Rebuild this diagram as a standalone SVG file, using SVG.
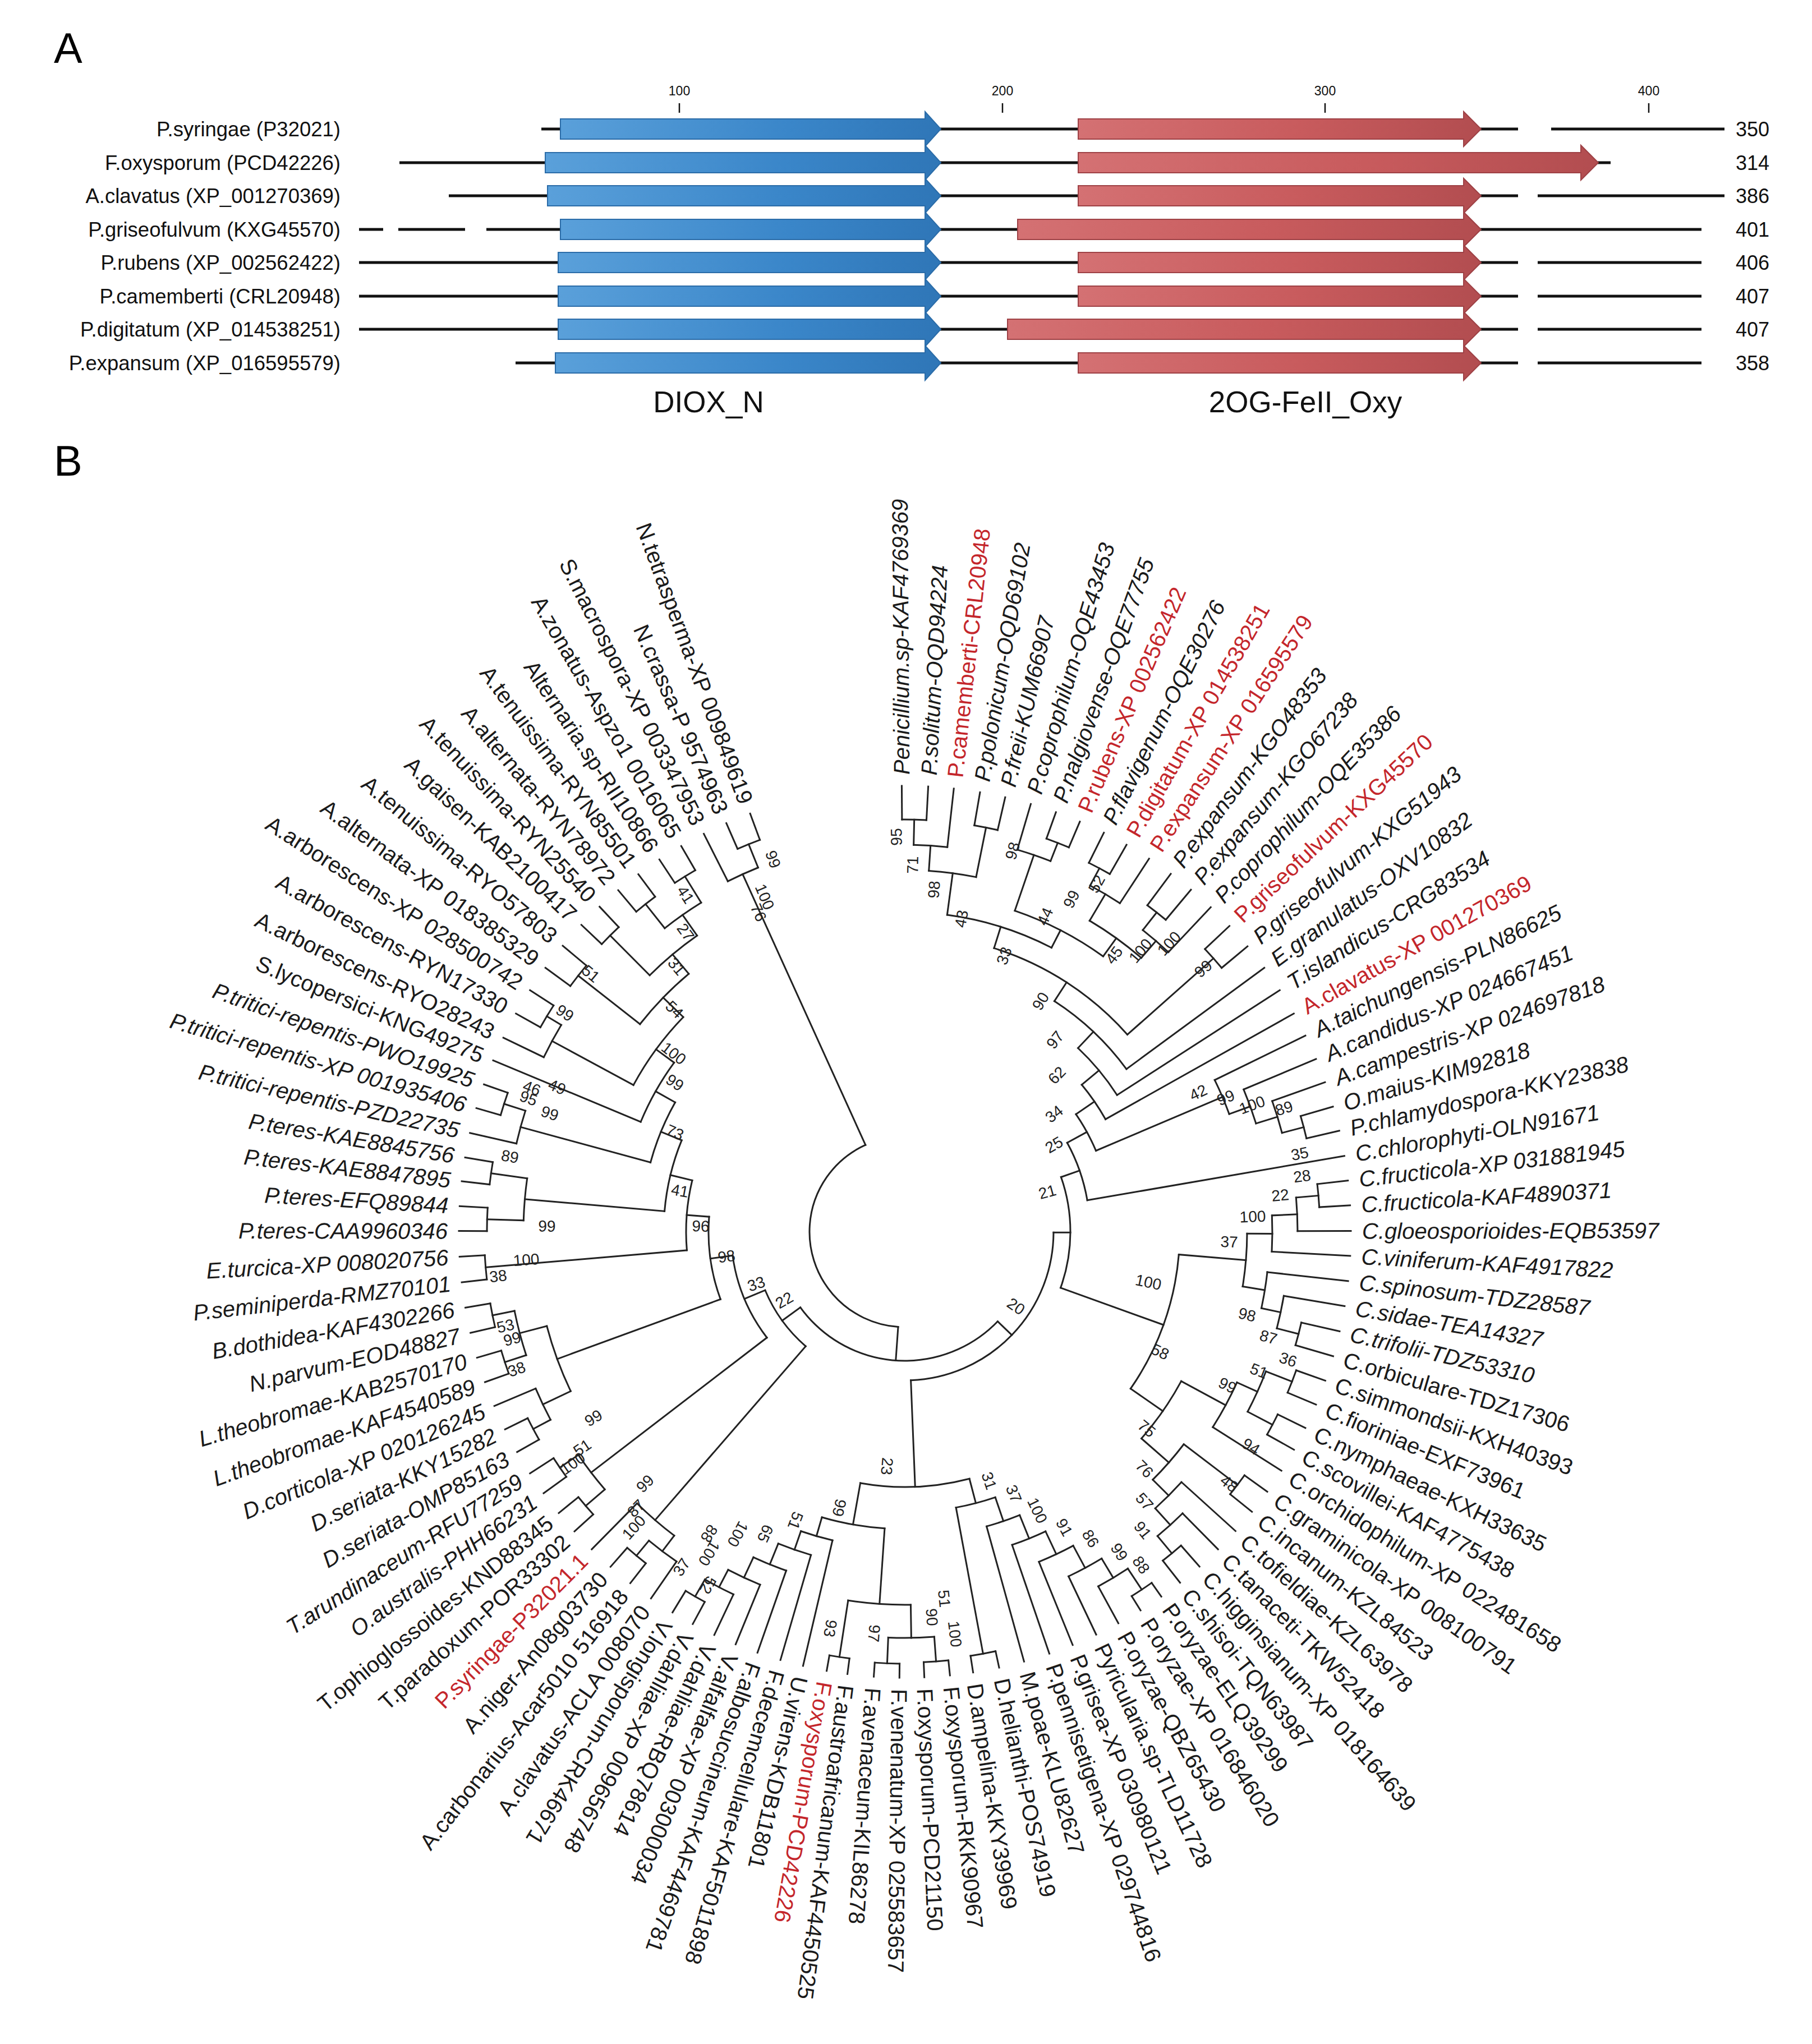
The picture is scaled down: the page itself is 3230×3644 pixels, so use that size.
<svg xmlns="http://www.w3.org/2000/svg" width="3230" height="3644" viewBox="0 0 3230 3644">
<style>
.pl{font-family:"Liberation Sans",Arial,sans-serif;font-size:76px;fill:#000}
.sp{font-family:"Liberation Sans",Arial,sans-serif;font-size:36.5px;fill:#111;text-anchor:end}
.len{font-family:"Liberation Sans",Arial,sans-serif;font-size:36px;fill:#111}
.tk{font-family:"Liberation Sans",Arial,sans-serif;font-size:23px;fill:#111;text-anchor:middle}
.dom{font-family:"Liberation Sans",Arial,sans-serif;font-size:53px;fill:#111;text-anchor:middle}
.ln{fill:none;stroke:#111;stroke-width:5}
.ba{fill:url(#gb);stroke:#2b6ca8;stroke-width:2}
.ra{fill:url(#gr);stroke:#9e4145;stroke-width:2}
.lb{font-family:"Liberation Sans",Arial,sans-serif;font-size:40px;fill:#1a1a1a;dominant-baseline:central}
.i{font-style:italic}
.r{fill:#c4262b}
.bs{font-family:"Liberation Sans",Arial,sans-serif;font-size:28px;fill:#222;text-anchor:middle;dominant-baseline:central}
</style>
<defs>
<linearGradient id="gb" x1="0" y1="0" x2="1" y2="0"><stop offset="0" stop-color="#5aa0da"/><stop offset="0.6" stop-color="#3a86c9"/><stop offset="1" stop-color="#2f76b7"/></linearGradient>
<linearGradient id="gr" x1="0" y1="0" x2="1" y2="0"><stop offset="0" stop-color="#d47173"/><stop offset="0.55" stop-color="#c85b5d"/><stop offset="1" stop-color="#b24d50"/></linearGradient>
</defs>
<rect width="3230" height="3644" fill="#fff"/>
<g id="panelA">
<text class="pl" x="96" y="112">A</text>
<g id="scale">
<path d="M1211 184V201M1787 184V201M2362 184V201M2939 184V201" stroke="#111" stroke-width="2.5"/>
<text class="tk" x="1211" y="170">100</text><text class="tk" x="1787" y="170">200</text><text class="tk" x="2362" y="170">300</text><text class="tk" x="2939" y="170">400</text>
</g>
<g id="row1"><path class="ln" d="M965 230H999M1676 230H1922M2639 230H2706M2765 230H3074"/><polygon class="ba" points="999,212 1649,212 1649,199 1677,230 1649,261 1649,248 999,248"/><polygon class="ra" points="1922,212 2609,212 2609,199 2640,230 2609,261 2609,248 1922,248"/><text class="sp" x="607" y="243">P.syringae (P32021)</text><text class="len" x="3094" y="243">350</text></g>
<g id="row2"><path class="ln" d="M712 290H972M1676 290H1922M2848 290H2871"/><polygon class="ba" points="972,272 1649,272 1649,259 1677,290 1649,321 1649,308 972,308"/><polygon class="ra" points="1922,272 2818,272 2818,259 2849,290 2818,321 2818,308 1922,308"/><text class="sp" x="607" y="303">F.oxysporum (PCD42226)</text><text class="len" x="3094" y="303">314</text></g>
<g id="row3"><path class="ln" d="M800 349H976M1676 349H1922M2639 349H2706M2741 349H3074"/><polygon class="ba" points="976,331 1649,331 1649,318 1677,349 1649,380 1649,367 976,367"/><polygon class="ra" points="1922,331 2609,331 2609,318 2640,349 2609,380 2609,367 1922,367"/><text class="sp" x="607" y="362">A.clavatus (XP_001270369)</text><text class="len" x="3094" y="362">386</text></g>
<g id="row4"><path class="ln" d="M640 409H683M710 409H829M867 409H999M1676 409H1814M2639 409H3033"/><polygon class="ba" points="999,391 1649,391 1649,378 1677,409 1649,440 1649,427 999,427"/><polygon class="ra" points="1814,391 2609,391 2609,378 2640,409 2609,440 2609,427 1814,427"/><text class="sp" x="607" y="422">P.griseofulvum (KXG45570)</text><text class="len" x="3094" y="422">401</text></g>
<g id="row5"><path class="ln" d="M640 468H995M1676 468H1922M2639 468H2706M2741 468H3033"/><polygon class="ba" points="995,450 1649,450 1649,437 1677,468 1649,499 1649,486 995,486"/><polygon class="ra" points="1922,450 2609,450 2609,437 2640,468 2609,499 2609,486 1922,486"/><text class="sp" x="607" y="481">P.rubens (XP_002562422)</text><text class="len" x="3094" y="481">406</text></g>
<g id="row6"><path class="ln" d="M640 528H995M1676 528H1922M2639 528H2706M2741 528H3033"/><polygon class="ba" points="995,510 1649,510 1649,497 1677,528 1649,559 1649,546 995,546"/><polygon class="ra" points="1922,510 2609,510 2609,497 2640,528 2609,559 2609,546 1922,546"/><text class="sp" x="607" y="541">P.camemberti (CRL20948)</text><text class="len" x="3094" y="541">407</text></g>
<g id="row7"><path class="ln" d="M640 587H995M1676 587H1796M2639 587H2706M2741 587H3033"/><polygon class="ba" points="995,569 1649,569 1649,556 1677,587 1649,618 1649,605 995,605"/><polygon class="ra" points="1796,569 2609,569 2609,556 2640,587 2609,618 2609,605 1796,605"/><text class="sp" x="607" y="600">P.digitatum (XP_014538251)</text><text class="len" x="3094" y="600">407</text></g>
<g id="row8"><path class="ln" d="M919 647H990M1676 647H1922M2639 647H2706M2741 647H3033"/><polygon class="ba" points="990,629 1649,629 1649,616 1677,647 1649,678 1649,665 990,665"/><polygon class="ra" points="1922,629 2609,629 2609,616 2640,647 2609,678 2609,665 1922,665"/><text class="sp" x="607" y="660">P.expansum (XP_016595579)</text><text class="len" x="3094" y="660">358</text></g>
<text class="dom" x="1263" y="735">DIOX_N</text>
<text class="dom" x="2327" y="735">2OG-FeII_Oxy</text>
</g>
<g id="panelB">
<text class="pl" x="96" y="848">B</text>
<g id="connectors" fill="none" stroke="#222" stroke-width="3" stroke-linecap="square" transform="translate(1613 2196)">
<circle r="735" pathLength="360" stroke-dasharray="3.4 400" transform="rotate(-90.4)"/>
<circle r="690" pathLength="360" stroke-dasharray="5 400" transform="rotate(-88.7)"/>
<circle r="735" pathLength="360" stroke-dasharray="3.3 400" transform="rotate(-80.3)"/>
<circle r="645" pathLength="360" stroke-dasharray="7.55 400" transform="rotate(-86.2)"/>
<circle r="745" pathLength="360" stroke-dasharray="3.3 400" transform="rotate(-70.2)"/>
<circle r="710" pathLength="360" stroke-dasharray="5.05 400" transform="rotate(-73.6)"/>
<circle r="735" pathLength="360" stroke-dasharray="3.3 400" transform="rotate(-63.5)"/>
<circle r="700" pathLength="360" stroke-dasharray="5.05 400" transform="rotate(-61.85)"/>
<circle r="725" pathLength="360" stroke-dasharray="3.3 400" transform="rotate(-53.4)"/>
<circle r="685" pathLength="360" stroke-dasharray="5.05 400" transform="rotate(-51.75)"/>
<circle r="645" pathLength="360" stroke-dasharray="10.1 400" transform="rotate(-59.3)"/>
<circle r="605" pathLength="360" stroke-dasharray="16.85 400" transform="rotate(-71.1)"/>
<circle r="570" pathLength="360" stroke-dasharray="19.7 400" transform="rotate(-82.4)"/>
<circle r="735" pathLength="360" stroke-dasharray="3.5 400" transform="rotate(-43.3)"/>
<circle r="530" pathLength="360" stroke-dasharray="31 400" transform="rotate(-72.55)"/>
<circle r="490" pathLength="360" stroke-dasharray="20.75 400" transform="rotate(-57.05)"/>
<circle r="450" pathLength="360" stroke-dasharray="13.9 400" transform="rotate(-46.7)"/>
<circle r="410" pathLength="360" stroke-dasharray="10.45 400" transform="rotate(-39.75)"/>
<circle r="735" pathLength="360" stroke-dasharray="3.2 400" transform="rotate(-16.3)"/>
<circle r="695" pathLength="360" stroke-dasharray="4.9 400" transform="rotate(-19.6)"/>
<circle r="655" pathLength="360" stroke-dasharray="5.65 400" transform="rotate(-22.8)"/>
<circle r="615" pathLength="360" stroke-dasharray="6.15 400" transform="rotate(-26.1)"/>
<circle r="370" pathLength="360" stroke-dasharray="11.5 400" transform="rotate(-34.5)"/>
<circle r="330" pathLength="360" stroke-dasharray="18.95 400" transform="rotate(-28.75)"/>
<circle r="740" pathLength="360" stroke-dasharray="3.2 400" transform="rotate(-6.6)"/>
<circle r="700" pathLength="360" stroke-dasharray="4.9 400" transform="rotate(-5)"/>
<circle r="655" pathLength="360" stroke-dasharray="5.65 400" transform="rotate(-2.55)"/>
<circle r="725" pathLength="360" stroke-dasharray="3.3 400" transform="rotate(12.9)"/>
<circle r="685" pathLength="360" stroke-dasharray="4.95 400" transform="rotate(9.6)"/>
<circle r="650" pathLength="360" stroke-dasharray="5.75 400" transform="rotate(6.35)"/>
<circle r="610" pathLength="360" stroke-dasharray="8.9 400" transform="rotate(0.3)"/>
<circle r="740" pathLength="360" stroke-dasharray="3.3 400" transform="rotate(19.5)"/>
<circle r="740" pathLength="360" stroke-dasharray="3.15 400" transform="rotate(26.1)"/>
<circle r="690" pathLength="360" stroke-dasharray="6.55 400" transform="rotate(21.15)"/>
<circle r="650" pathLength="360" stroke-dasharray="8 400" transform="rotate(24.4)"/>
<circle r="745" pathLength="360" stroke-dasharray="3.25 400" transform="rotate(35.65)"/>
<circle r="745" pathLength="360" stroke-dasharray="3.25 400" transform="rotate(48.65)"/>
<circle r="705" pathLength="360" stroke-dasharray="4.9 400" transform="rotate(45.4)"/>
<circle r="665" pathLength="360" stroke-dasharray="5.7 400" transform="rotate(42.15)"/>
<circle r="625" pathLength="360" stroke-dasharray="7.7 400" transform="rotate(37.3)"/>
<circle r="560" pathLength="360" stroke-dasharray="12.75 400" transform="rotate(28.4)"/>
<circle r="490" pathLength="360" stroke-dasharray="30.05 400" transform="rotate(4.75)"/>
<circle r="295" pathLength="360" stroke-dasharray="39.1 400" transform="rotate(-19.3)"/>
<circle r="765" pathLength="360" stroke-dasharray="3.2 400" transform="rotate(54.9)"/>
<circle r="720" pathLength="360" stroke-dasharray="4.9 400" transform="rotate(56.5)"/>
<circle r="680" pathLength="360" stroke-dasharray="5.65 400" transform="rotate(58.95)"/>
<circle r="635" pathLength="360" stroke-dasharray="6.1 400" transform="rotate(61.8)"/>
<circle r="590" pathLength="360" stroke-dasharray="6.25 400" transform="rotate(64.85)"/>
<circle r="545" pathLength="360" stroke-dasharray="6.55 400" transform="rotate(67.95)"/>
<circle r="765" pathLength="360" stroke-dasharray="3.4 400" transform="rotate(77.8)"/>
<circle r="500" pathLength="360" stroke-dasharray="8.3 400" transform="rotate(71.2)"/>
<circle r="768" pathLength="360" stroke-dasharray="3.3 400" transform="rotate(84.2)"/>
<circle r="770" pathLength="360" stroke-dasharray="3.3 400" transform="rotate(90.7)"/>
<circle r="724" pathLength="360" stroke-dasharray="6.5 400" transform="rotate(85.85)"/>
<circle r="767" pathLength="360" stroke-dasharray="2.7 400" transform="rotate(97.4)"/>
<circle r="665" pathLength="360" stroke-dasharray="9.65 400" transform="rotate(89.1)"/>
<circle r="750" pathLength="360" stroke-dasharray="3 400" transform="rotate(118.4)"/>
<circle r="715" pathLength="360" stroke-dasharray="4.6 400" transform="rotate(115.3)"/>
<circle r="680" pathLength="360" stroke-dasharray="5.3 400" transform="rotate(112.3)"/>
<circle r="640" pathLength="360" stroke-dasharray="5.65 400" transform="rotate(109.3)"/>
<circle r="600" pathLength="360" stroke-dasharray="5.9 400" transform="rotate(106.2)"/>
<circle r="565" pathLength="360" stroke-dasharray="5.95 400" transform="rotate(103.2)"/>
<circle r="530" pathLength="360" stroke-dasharray="12.3 400" transform="rotate(93.9)"/>
<circle r="455" pathLength="360" stroke-dasharray="24.7 400" transform="rotate(75.35)"/>
<circle r="265" pathLength="360" stroke-dasharray="87.45 400" transform="rotate(0.25)"/>
<circle r="750" pathLength="360" stroke-dasharray="3.3 400" transform="rotate(128)"/>
<circle r="715" pathLength="360" stroke-dasharray="4.95 400" transform="rotate(124.7)"/>
<circle r="680" pathLength="360" stroke-dasharray="7.4 400" transform="rotate(127.2)"/>
<circle r="750" pathLength="360" stroke-dasharray="3.1 400" transform="rotate(137.8)"/>
<circle r="745" pathLength="360" stroke-dasharray="3.1 400" transform="rotate(144.1)"/>
<circle r="705" pathLength="360" stroke-dasharray="6.3 400" transform="rotate(139.35)"/>
<circle r="750" pathLength="360" stroke-dasharray="3.3 400" transform="rotate(150.4)"/>
<circle r="715" pathLength="360" stroke-dasharray="4.95 400" transform="rotate(152.05)"/>
<circle r="750" pathLength="360" stroke-dasharray="3.3 400" transform="rotate(160.3)"/>
<circle r="750" pathLength="360" stroke-dasharray="3.3 400" transform="rotate(166.9)"/>
<circle r="710" pathLength="360" stroke-dasharray="6.6 400" transform="rotate(161.95)"/>
<circle r="660" pathLength="360" stroke-dasharray="10.75 400" transform="rotate(154.5)"/>
<circle r="750" pathLength="360" stroke-dasharray="3.3 400" transform="rotate(173.5)"/>
<circle r="745" pathLength="360" stroke-dasharray="3.2 400" transform="rotate(180.1)"/>
<circle r="745" pathLength="360" stroke-dasharray="3.1 400" transform="rotate(186.5)"/>
<circle r="680" pathLength="360" stroke-dasharray="6.35 400" transform="rotate(181.7)"/>
<circle r="750" pathLength="360" stroke-dasharray="3.2 400" transform="rotate(196.1)"/>
<circle r="710" pathLength="360" stroke-dasharray="4.9 400" transform="rotate(192.8)"/>
<circle r="745" pathLength="360" stroke-dasharray="3.5 400" transform="rotate(209.3)"/>
<circle r="715" pathLength="360" stroke-dasharray="5.25 400" transform="rotate(205.8)"/>
<circle r="740" pathLength="360" stroke-dasharray="3.6 400" transform="rotate(216.3)"/>
<circle r="745" pathLength="360" stroke-dasharray="3.3 400" transform="rotate(223.5)"/>
<circle r="745" pathLength="360" stroke-dasharray="3.3 400" transform="rotate(230)"/>
<circle r="745" pathLength="360" stroke-dasharray="3.3 400" transform="rotate(236.6)"/>
<circle r="690" pathLength="360" stroke-dasharray="6.6 400" transform="rotate(231.65)"/>
<circle r="645" pathLength="360" stroke-dasharray="9.8 400" transform="rotate(225.15)"/>
<circle r="600" pathLength="360" stroke-dasharray="11.95 400" transform="rotate(218.1)"/>
<circle r="550" pathLength="360" stroke-dasharray="15.7 400" transform="rotate(208.4)"/>
<circle r="510" pathLength="360" stroke-dasharray="13.65 400" transform="rotate(202.6)"/>
<circle r="470" pathLength="360" stroke-dasharray="14.15 400" transform="rotate(195.25)"/>
<circle r="430" pathLength="360" stroke-dasharray="17.4 400" transform="rotate(184.9)"/>
<circle r="390" pathLength="360" stroke-dasharray="18.45 400" transform="rotate(175.15)"/>
<circle r="350" pathLength="360" stroke-dasharray="24.5 400" transform="rotate(159.9)"/>
<circle r="310" pathLength="360" stroke-dasharray="29.65 400" transform="rotate(142.5)"/>
<circle r="270" pathLength="360" stroke-dasharray="26.4 400" transform="rotate(130.9)"/>
<circle r="745" pathLength="360" stroke-dasharray="3.3 400" transform="rotate(246.4)"/>
<circle r="700" pathLength="360" stroke-dasharray="4.85 400" transform="rotate(243.2)"/>
<circle r="230" pathLength="360" stroke-dasharray="100.1 400" transform="rotate(44)"/>
<circle r="170" pathLength="360" stroke-dasharray="151.55 400" transform="rotate(94.05)"/>
<path d="M735 0H795" transform="rotate(-90.4)"/>
<path d="M735 0H795" transform="rotate(-87)"/>
<path d="M690 0H735" transform="rotate(-88.7)"/>
<path d="M690 0H795" transform="rotate(-83.7)"/>
<path d="M735 0H795" transform="rotate(-80.3)"/>
<path d="M735 0H795" transform="rotate(-77)"/>
<path d="M645 0H690" transform="rotate(-86.2)"/>
<path d="M645 0H735" transform="rotate(-78.65)"/>
<path d="M745 0H795" transform="rotate(-70.2)"/>
<path d="M745 0H795" transform="rotate(-66.9)"/>
<path d="M710 0H795" transform="rotate(-73.6)"/>
<path d="M710 0H745" transform="rotate(-68.55)"/>
<path d="M735 0H795" transform="rotate(-63.5)"/>
<path d="M735 0H795" transform="rotate(-60.2)"/>
<path d="M700 0H735" transform="rotate(-61.85)"/>
<path d="M700 0H795" transform="rotate(-56.8)"/>
<path d="M725 0H795" transform="rotate(-53.4)"/>
<path d="M725 0H795" transform="rotate(-50.1)"/>
<path d="M685 0H725" transform="rotate(-51.75)"/>
<path d="M685 0H795" transform="rotate(-46.7)"/>
<path d="M645 0H700" transform="rotate(-59.3)"/>
<path d="M645 0H685" transform="rotate(-49.2)"/>
<path d="M605 0H710" transform="rotate(-71.1)"/>
<path d="M605 0H645" transform="rotate(-54.25)"/>
<path d="M570 0H645" transform="rotate(-82.4)"/>
<path d="M570 0H605" transform="rotate(-62.7)"/>
<path d="M735 0H795" transform="rotate(-43.3)"/>
<path d="M735 0H795" transform="rotate(-39.8)"/>
<path d="M530 0H570" transform="rotate(-72.55)"/>
<path d="M530 0H735" transform="rotate(-41.55)"/>
<path d="M490 0H530" transform="rotate(-57.05)"/>
<path d="M490 0H795" transform="rotate(-36.3)"/>
<path d="M450 0H490" transform="rotate(-46.7)"/>
<path d="M450 0H795" transform="rotate(-32.8)"/>
<path d="M410 0H450" transform="rotate(-39.75)"/>
<path d="M410 0H795" transform="rotate(-29.3)"/>
<path d="M735 0H795" transform="rotate(-16.3)"/>
<path d="M735 0H795" transform="rotate(-13.1)"/>
<path d="M695 0H795" transform="rotate(-19.6)"/>
<path d="M695 0H735" transform="rotate(-14.7)"/>
<path d="M655 0H795" transform="rotate(-22.8)"/>
<path d="M655 0H695" transform="rotate(-17.15)"/>
<path d="M615 0H795" transform="rotate(-26.1)"/>
<path d="M615 0H655" transform="rotate(-19.95)"/>
<path d="M370 0H410" transform="rotate(-34.5)"/>
<path d="M370 0H615" transform="rotate(-23)"/>
<path d="M330 0H370" transform="rotate(-28.75)"/>
<path d="M330 0H795" transform="rotate(-9.8)"/>
<path d="M740 0H795" transform="rotate(-6.6)"/>
<path d="M740 0H795" transform="rotate(-3.4)"/>
<path d="M700 0H740" transform="rotate(-5)"/>
<path d="M700 0H795" transform="rotate(-0.1)"/>
<path d="M655 0H700" transform="rotate(-2.55)"/>
<path d="M655 0H795" transform="rotate(3.1)"/>
<path d="M725 0H795" transform="rotate(12.9)"/>
<path d="M725 0H795" transform="rotate(16.2)"/>
<path d="M685 0H795" transform="rotate(9.6)"/>
<path d="M685 0H725" transform="rotate(14.55)"/>
<path d="M650 0H795" transform="rotate(6.35)"/>
<path d="M650 0H685" transform="rotate(12.1)"/>
<path d="M610 0H655" transform="rotate(0.3)"/>
<path d="M610 0H650" transform="rotate(9.2)"/>
<path d="M740 0H795" transform="rotate(19.5)"/>
<path d="M740 0H795" transform="rotate(22.8)"/>
<path d="M740 0H795" transform="rotate(26.1)"/>
<path d="M740 0H795" transform="rotate(29.25)"/>
<path d="M690 0H740" transform="rotate(21.15)"/>
<path d="M690 0H740" transform="rotate(27.7)"/>
<path d="M650 0H690" transform="rotate(24.4)"/>
<path d="M650 0H795" transform="rotate(32.4)"/>
<path d="M745 0H795" transform="rotate(35.65)"/>
<path d="M745 0H795" transform="rotate(38.9)"/>
<path d="M745 0H795" transform="rotate(48.65)"/>
<path d="M745 0H795" transform="rotate(51.9)"/>
<path d="M705 0H795" transform="rotate(45.4)"/>
<path d="M705 0H745" transform="rotate(50.3)"/>
<path d="M665 0H795" transform="rotate(42.15)"/>
<path d="M665 0H705" transform="rotate(47.85)"/>
<path d="M625 0H745" transform="rotate(37.3)"/>
<path d="M625 0H665" transform="rotate(45)"/>
<path d="M560 0H650" transform="rotate(28.4)"/>
<path d="M560 0H625" transform="rotate(41.15)"/>
<path d="M490 0H610" transform="rotate(4.75)"/>
<path d="M490 0H560" transform="rotate(34.8)"/>
<path d="M295 0H330" transform="rotate(-19.3)"/>
<path d="M295 0H490" transform="rotate(19.8)"/>
<path d="M765 0H795" transform="rotate(54.9)"/>
<path d="M765 0H795" transform="rotate(58.1)"/>
<path d="M720 0H765" transform="rotate(56.5)"/>
<path d="M720 0H795" transform="rotate(61.4)"/>
<path d="M680 0H720" transform="rotate(58.95)"/>
<path d="M680 0H795" transform="rotate(64.6)"/>
<path d="M635 0H680" transform="rotate(61.8)"/>
<path d="M635 0H795" transform="rotate(67.9)"/>
<path d="M590 0H635" transform="rotate(64.85)"/>
<path d="M590 0H795" transform="rotate(71.1)"/>
<path d="M545 0H590" transform="rotate(67.95)"/>
<path d="M545 0H795" transform="rotate(74.5)"/>
<path d="M765 0H795" transform="rotate(77.8)"/>
<path d="M765 0H795" transform="rotate(81.2)"/>
<path d="M500 0H545" transform="rotate(71.2)"/>
<path d="M500 0H765" transform="rotate(79.5)"/>
<path d="M768 0H795" transform="rotate(84.2)"/>
<path d="M768 0H795" transform="rotate(87.5)"/>
<path d="M770 0H795" transform="rotate(90.7)"/>
<path d="M770 0H795" transform="rotate(94)"/>
<path d="M724 0H768" transform="rotate(85.85)"/>
<path d="M724 0H770" transform="rotate(92.35)"/>
<path d="M767 0H795" transform="rotate(97.4)"/>
<path d="M767 0H795" transform="rotate(100.1)"/>
<path d="M665 0H724" transform="rotate(89.1)"/>
<path d="M665 0H767" transform="rotate(98.75)"/>
<path d="M750 0H795" transform="rotate(118.4)"/>
<path d="M750 0H795" transform="rotate(121.4)"/>
<path d="M715 0H795" transform="rotate(115.3)"/>
<path d="M715 0H750" transform="rotate(119.9)"/>
<path d="M680 0H795" transform="rotate(112.3)"/>
<path d="M680 0H715" transform="rotate(117.6)"/>
<path d="M640 0H795" transform="rotate(109.3)"/>
<path d="M640 0H680" transform="rotate(114.95)"/>
<path d="M600 0H795" transform="rotate(106.2)"/>
<path d="M600 0H640" transform="rotate(112.1)"/>
<path d="M565 0H795" transform="rotate(103.2)"/>
<path d="M565 0H600" transform="rotate(109.15)"/>
<path d="M530 0H665" transform="rotate(93.9)"/>
<path d="M530 0H565" transform="rotate(106.2)"/>
<path d="M455 0H500" transform="rotate(75.35)"/>
<path d="M455 0H530" transform="rotate(100.05)"/>
<path d="M265 0H295" transform="rotate(0.25)"/>
<path d="M265 0H455" transform="rotate(87.7)"/>
<path d="M750 0H795" transform="rotate(128)"/>
<path d="M750 0H795" transform="rotate(131.3)"/>
<path d="M715 0H795" transform="rotate(124.7)"/>
<path d="M715 0H750" transform="rotate(129.65)"/>
<path d="M680 0H715" transform="rotate(127.2)"/>
<path d="M680 0H795" transform="rotate(134.6)"/>
<path d="M750 0H795" transform="rotate(137.8)"/>
<path d="M750 0H795" transform="rotate(140.9)"/>
<path d="M745 0H795" transform="rotate(144.1)"/>
<path d="M745 0H795" transform="rotate(147.2)"/>
<path d="M705 0H750" transform="rotate(139.35)"/>
<path d="M705 0H745" transform="rotate(145.65)"/>
<path d="M750 0H795" transform="rotate(150.4)"/>
<path d="M750 0H795" transform="rotate(153.7)"/>
<path d="M715 0H750" transform="rotate(152.05)"/>
<path d="M715 0H795" transform="rotate(157)"/>
<path d="M750 0H795" transform="rotate(160.3)"/>
<path d="M750 0H795" transform="rotate(163.6)"/>
<path d="M750 0H795" transform="rotate(166.9)"/>
<path d="M750 0H795" transform="rotate(170.2)"/>
<path d="M710 0H750" transform="rotate(161.95)"/>
<path d="M710 0H750" transform="rotate(168.55)"/>
<path d="M660 0H715" transform="rotate(154.5)"/>
<path d="M660 0H710" transform="rotate(165.25)"/>
<path d="M750 0H795" transform="rotate(173.5)"/>
<path d="M750 0H795" transform="rotate(176.8)"/>
<path d="M745 0H795" transform="rotate(180.1)"/>
<path d="M745 0H795" transform="rotate(183.3)"/>
<path d="M745 0H795" transform="rotate(186.5)"/>
<path d="M745 0H795" transform="rotate(189.6)"/>
<path d="M680 0H745" transform="rotate(181.7)"/>
<path d="M680 0H745" transform="rotate(188.05)"/>
<path d="M750 0H795" transform="rotate(196.1)"/>
<path d="M750 0H795" transform="rotate(199.3)"/>
<path d="M710 0H795" transform="rotate(192.8)"/>
<path d="M710 0H750" transform="rotate(197.7)"/>
<path d="M745 0H795" transform="rotate(209.3)"/>
<path d="M745 0H795" transform="rotate(212.8)"/>
<path d="M715 0H795" transform="rotate(205.8)"/>
<path d="M715 0H745" transform="rotate(211.05)"/>
<path d="M740 0H795" transform="rotate(216.3)"/>
<path d="M740 0H795" transform="rotate(219.9)"/>
<path d="M745 0H795" transform="rotate(223.5)"/>
<path d="M745 0H795" transform="rotate(226.8)"/>
<path d="M745 0H795" transform="rotate(230)"/>
<path d="M745 0H795" transform="rotate(233.3)"/>
<path d="M745 0H795" transform="rotate(236.6)"/>
<path d="M745 0H795" transform="rotate(239.9)"/>
<path d="M690 0H745" transform="rotate(231.65)"/>
<path d="M690 0H745" transform="rotate(238.25)"/>
<path d="M645 0H745" transform="rotate(225.15)"/>
<path d="M645 0H690" transform="rotate(234.95)"/>
<path d="M600 0H740" transform="rotate(218.1)"/>
<path d="M600 0H645" transform="rotate(230.05)"/>
<path d="M550 0H715" transform="rotate(208.4)"/>
<path d="M550 0H600" transform="rotate(224.1)"/>
<path d="M510 0H795" transform="rotate(202.6)"/>
<path d="M510 0H550" transform="rotate(216.25)"/>
<path d="M470 0H710" transform="rotate(195.25)"/>
<path d="M470 0H510" transform="rotate(209.4)"/>
<path d="M430 0H680" transform="rotate(184.9)"/>
<path d="M430 0H470" transform="rotate(202.3)"/>
<path d="M390 0H750" transform="rotate(175.15)"/>
<path d="M390 0H430" transform="rotate(193.6)"/>
<path d="M350 0H660" transform="rotate(159.9)"/>
<path d="M350 0H390" transform="rotate(184.4)"/>
<path d="M310 0H705" transform="rotate(142.5)"/>
<path d="M310 0H350" transform="rotate(172.15)"/>
<path d="M270 0H680" transform="rotate(130.9)"/>
<path d="M270 0H310" transform="rotate(157.3)"/>
<path d="M745 0H795" transform="rotate(246.4)"/>
<path d="M745 0H795" transform="rotate(249.7)"/>
<path d="M700 0H795" transform="rotate(243.2)"/>
<path d="M700 0H745" transform="rotate(248.05)"/>
<path d="M230 0H265" transform="rotate(44)"/>
<path d="M230 0H270" transform="rotate(144.1)"/>
<path d="M170 0H230" transform="rotate(94.05)"/>
<path d="M170 0H700" transform="rotate(245.6)"/>
</g>
<g id="leaves" class="lb" transform="translate(1613 2196)">
<text id="n1" class="i" transform="rotate(-90.4)" x="815">Penicillium.sp-KAF4769369</text>
<text id="n2" class="i" transform="rotate(-87)" x="815">P.solitum-OQD94224</text>
<text id="n3" class="r" transform="rotate(-83.7)" x="815">P.camemberti-CRL20948</text>
<text id="n4" class="i" transform="rotate(-80.3)" x="815">P.polonicum-OQD69102</text>
<text id="n5" class="i" transform="rotate(-77)" x="815">P.freii-KUM66907</text>
<text id="n6" class="i" transform="rotate(-73.6)" x="815">P.coprophilum-OQE43453</text>
<text id="n7" class="i" transform="rotate(-70.2)" x="815">P.nalgiovense-OQE77755</text>
<text id="n8" class="r" transform="rotate(-66.9)" x="815">P.rubens-XP 002562422</text>
<text id="n9" class="i" transform="rotate(-63.5)" x="815">P.flavigenum-OQE30276</text>
<text id="n10" class="r" transform="rotate(-60.2)" x="815">P.digitatum-XP 014538251</text>
<text id="n11" class="r" transform="rotate(-56.8)" x="815">P.expansum-XP 016595579</text>
<text id="n12" class="i" transform="rotate(-53.4)" x="815">P.expansum-KGO48353</text>
<text id="n13" class="i" transform="rotate(-50.1)" x="815">P.expansum-KGO67238</text>
<text id="n14" class="i" transform="rotate(-46.7)" x="815">P.coprophilum-OQE35386</text>
<text id="n15" class="r" transform="rotate(-43.3)" x="815">P.griseofulvum-KXG45570</text>
<text id="n16" class="i" transform="rotate(-39.8)" x="815">P.griseofulvum-KXG51943</text>
<text id="n17" class="i" transform="rotate(-36.3)" x="815">E.granulatus-OXV10832</text>
<text id="n18" class="i" transform="rotate(-32.8)" x="815">T.islandicus-CRG83534</text>
<text id="n19" class="r" transform="rotate(-29.3)" x="815">A.clavatus-XP 001270369</text>
<text id="n20" class="i" transform="rotate(-26.1)" x="815">A.taichungensis-PLN86625</text>
<text id="n21" class="i" transform="rotate(-22.8)" x="815">A.candidus-XP 024667451</text>
<text id="n22" class="i" transform="rotate(-19.6)" x="815">A.campestris-XP 024697818</text>
<text id="n23" class="i" transform="rotate(-16.3)" x="815">O.maius-KIM92818</text>
<text id="n24" class="i" transform="rotate(-13.1)" x="815">P.chlamydospora-KKY23838</text>
<text id="n25" class="i" transform="rotate(-9.8)" x="815">C.chlorophyti-OLN91671</text>
<text id="n26" class="i" transform="rotate(-6.6)" x="815">C.fructicola-XP 031881945</text>
<text id="n27" class="i" transform="rotate(-3.4)" x="815">C.fructicola-KAF4890371</text>
<text id="n28" class="i" transform="rotate(-0.1)" x="815">C.gloeosporioides-EQB53597</text>
<text id="n29" class="i" transform="rotate(3.1)" x="815">C.viniferum-KAF4917822</text>
<text id="n30" class="i" transform="rotate(6.35)" x="815">C.spinosum-TDZ28587</text>
<text id="n31" class="i" transform="rotate(9.6)" x="815">C.sidae-TEA14327</text>
<text id="n32" class="i" transform="rotate(12.9)" x="815">C.trifolii-TDZ53310</text>
<text id="n33" transform="rotate(16.2)" x="815">C.orbiculare-TDZ17306</text>
<text id="n34" transform="rotate(19.5)" x="815">C.simmondsii-KXH40393</text>
<text id="n35" transform="rotate(22.8)" x="815">C.fioriniae-EXF73961</text>
<text id="n36" transform="rotate(26.1)" x="815">C.nymphaeae-KXH33635</text>
<text id="n37" transform="rotate(29.25)" x="815">C.scovillei-KAF4775438</text>
<text id="n38" transform="rotate(32.4)" x="815">C.orchidophilum-XP 022481658</text>
<text id="n39" transform="rotate(35.65)" x="815">C.graminicola-XP 008100791</text>
<text id="n40" transform="rotate(38.9)" x="815">C.incanum-KZL84523</text>
<text id="n41" transform="rotate(42.15)" x="815">C.tofieldiae-KZL63978</text>
<text id="n42" transform="rotate(45.4)" x="815">C.tanaceti-TKW52418</text>
<text id="n43" transform="rotate(48.65)" x="815">C.higginsianum-XP 018164639</text>
<text id="n44" transform="rotate(51.9)" x="815">C.shisoi-TQN63987</text>
<text id="n45" transform="rotate(54.9)" x="815">P.oryzae-ELQ39299</text>
<text id="n46" transform="rotate(58.1)" x="815">P.oryzae-XP 016846020</text>
<text id="n47" transform="rotate(61.4)" x="815">P.oryzae-QBZ65430</text>
<text id="n48" transform="rotate(64.6)" x="815">Pyricularia.sp-TLD11728</text>
<text id="n49" transform="rotate(67.9)" x="815">P.grisea-XP 030980121</text>
<text id="n50" transform="rotate(71.1)" x="815">P.pennisetigena-XP 029744816</text>
<text id="n51" transform="rotate(74.5)" x="815">M.poae-KLU82627</text>
<text id="n52" transform="rotate(77.8)" x="815">D.helianthi-POS74919</text>
<text id="n53" transform="rotate(81.2)" x="815">D.ampelina-KKY39969</text>
<text id="n54" transform="rotate(84.2)" x="815">F.oxysporum-RKK90967</text>
<text id="n55" transform="rotate(87.5)" x="815">F.oxysporum-PCD21150</text>
<text id="n56" transform="rotate(90.7)" x="815">F.venenatum-XP 025583657</text>
<text id="n57" transform="rotate(94)" x="815">F.avenaceum-KIL86278</text>
<text id="n58" transform="rotate(97.4)" x="815">F.austroafricanum-KAF4450525</text>
<text id="n59" class="r" transform="rotate(100.1)" x="815">F.oxysporum-PCD42226</text>
<text id="n60" transform="rotate(103.2)" x="815">U.virens-KDB11801</text>
<text id="n61" transform="rotate(106.2)" x="815">F.decemcellulare-KAF5011898</text>
<text id="n62" transform="rotate(109.3)" x="815">F.albosuccineum-KAF4469781</text>
<text id="n63" transform="rotate(112.3)" x="815">V.alfalfae-XP 003000034</text>
<text id="n64" transform="rotate(115.3)" x="815">V.dahliae-RBQ78614</text>
<text id="n65" transform="rotate(118.4)" x="815">V.dahliae-XP 009656748</text>
<text id="n66" transform="rotate(121.4)" x="815">V.longisporum-CRK46671</text>
<g text-anchor="end">
<text id="n67" transform="rotate(-55.3)" x="-815">A.clavatus-ACLA 008070</text>
<text id="n68" transform="rotate(-52)" x="-815">A.carbonarius-Acar5010 516918</text>
<text id="n69" transform="rotate(-48.7)" x="-815">A.niger-An08g03730</text>
<text id="n70" class="r" transform="rotate(-45.4)" x="-815">P.syringae-P32021.1</text>
<text id="n71" transform="rotate(-42.2)" x="-815">T.paradoxum-POR33302</text>
<text id="n72" transform="rotate(-39.1)" x="-815">T.ophioglossoides-KND88345</text>
<text id="n73" class="i" transform="rotate(-35.9)" x="-815">O.australis-PHH66231</text>
<text id="n74" class="i" transform="rotate(-32.8)" x="-815">T.arundinaceum-RFU77259</text>
<text id="n75" class="i" transform="rotate(-29.6)" x="-815">D.seriata-OMP85163</text>
<text id="n76" class="i" transform="rotate(-26.3)" x="-815">D.seriata-KKY15282</text>
<text id="n77" class="i" transform="rotate(-23)" x="-815">D.corticola-XP 020126245</text>
<text id="n78" class="i" transform="rotate(-19.7)" x="-815">L.theobromae-KAF4540589</text>
<text id="n79" class="i" transform="rotate(-16.4)" x="-815">L.theobromae-KAB2570170</text>
<text id="n80" class="i" transform="rotate(-13.1)" x="-815">N.parvum-EOD48827</text>
<text id="n81" class="i" transform="rotate(-9.8)" x="-815">B.dothidea-KAF4302266</text>
<text id="n82" class="i" transform="rotate(-6.5)" x="-815">P.seminiperda-RMZ70101</text>
<text id="n83" class="i" transform="rotate(-3.2)" x="-815">E.turcica-XP 008020756</text>
<text id="n84" class="i" transform="rotate(0.1)" x="-815">P.teres-CAA9960346</text>
<text id="n85" class="i" transform="rotate(3.3)" x="-815">P.teres-EFQ89844</text>
<text id="n86" class="i" transform="rotate(6.5)" x="-815">P.teres-KAE8847895</text>
<text id="n87" class="i" transform="rotate(9.6)" x="-815">P.teres-KAE8845756</text>
<text id="n88" class="i" transform="rotate(12.8)" x="-815">P.tritici-repentis-PZD22735</text>
<text id="n89" class="i" transform="rotate(16.1)" x="-815">P.tritici-repentis-XP 001935406</text>
<text id="n90" class="i" transform="rotate(19.3)" x="-815">P.tritici-repentis-PWO19925</text>
<text id="n91" transform="rotate(22.6)" x="-815">S.lycopersici-KNG49275</text>
<text id="n92" transform="rotate(25.8)" x="-815">A.arborescens-RYO28243</text>
<text id="n93" transform="rotate(29.3)" x="-815">A.arborescens-RYN17330</text>
<text id="n94" transform="rotate(32.8)" x="-815">A.arborescens-XP 028500742</text>
<text id="n95" transform="rotate(36.3)" x="-815">A.alternata-XP 018385329</text>
<text id="n96" transform="rotate(39.9)" x="-815">A.tenuissima-RYO57803</text>
<text id="n97" transform="rotate(43.5)" x="-815">A.gaisen-KAB2100417</text>
<text id="n98" transform="rotate(46.8)" x="-815">A.tenuissima-RYN25540</text>
<text id="n99" transform="rotate(50)" x="-815">A.alternata-RYN78972</text>
<text id="n100" transform="rotate(53.3)" x="-815">A.tenuissima-RYN85501</text>
<text id="n101" transform="rotate(56.6)" x="-815">Alternaria.sp-RII10866</text>
<text id="n102" transform="rotate(59.9)" x="-815">A.zonatus-Aspzo1 0016065</text>
<text id="n103" transform="rotate(63.2)" x="-815">S.macrospora-XP 003347953</text>
<text id="n104" transform="rotate(66.4)" x="-815">N.crassa-P 9574963</text>
<text id="n105" transform="rotate(69.7)" x="-815">N.tetrasperma-XP 009849619</text>
</g>
</g>
<g id="bootstrap" class="bs">
<text x="1598" y="1492" transform="rotate(-91.2 1598 1492)">95</text>
<text x="1627" y="1542" transform="rotate(-88.8 1627 1542)">71</text>
<text x="1665" y="1586" transform="rotate(-85.1 1665 1586)">98</text>
<text x="1714" y="1638" transform="rotate(-79.7 1714 1638)">43</text>
<text x="1790" y="1704" transform="rotate(-70.2 1790 1704)">33</text>
<text x="1855" y="1785" transform="rotate(-59.5 1855 1785)">90</text>
<text x="1881" y="1854" transform="rotate(-51.9 1881 1854)">97</text>
<text x="1884" y="1917" transform="rotate(-45.8 1884 1917)">62</text>
<text x="1879" y="1986" transform="rotate(-38.3 1879 1986)">34</text>
<text x="1879" y="2041" transform="rotate(-30.2 1879 2041)">25</text>
<text x="1805" y="1517" transform="rotate(-74.2 1805 1517)">98</text>
<text x="1863" y="1634" transform="rotate(-66 1863 1634)">44</text>
<text x="1910" y="1603" transform="rotate(-63.4 1910 1603)">99</text>
<text x="1955" y="1576" transform="rotate(-61.1 1955 1576)">52</text>
<text x="1986" y="1703" transform="rotate(-52.9 1986 1703)">45</text>
<text x="2033" y="1695" transform="rotate(-50 2033 1695)">100</text>
<text x="2084" y="1682" transform="rotate(-47.5 2084 1682)">100</text>
<text x="2145" y="1727" transform="rotate(-41.4 2145 1727)">99</text>
<text x="2136" y="1948" transform="rotate(-25.4 2136 1948)">42</text>
<text x="2185" y="1957" transform="rotate(-22.7 2185 1957)">99</text>
<text x="2232" y="1970" transform="rotate(-20.1 2232 1970)">100</text>
<text x="2289" y="1976" transform="rotate(-18 2289 1976)">89</text>
<text x="2317" y="2057" transform="rotate(-11.2 2317 2057)">35</text>
<text x="2321" y="2097" transform="rotate(-8 2321 2097)">28</text>
<text x="2282" y="2131" transform="rotate(-5.5 2282 2131)">22</text>
<text x="2233" y="2169" transform="rotate(-2.5 2233 2169)">100</text>
<text x="2191" y="2214" transform="rotate(1.8 2191 2214)">37</text>
<text x="2047" y="2286" transform="rotate(11.7 2047 2286)">100</text>
<text x="2223" y="2344" transform="rotate(13.6 2223 2344)">98</text>
<text x="2261" y="2384" transform="rotate(16.2 2261 2384)">87</text>
<text x="2296" y="2424" transform="rotate(18.5 2296 2424)">36</text>
<text x="2244" y="2444" transform="rotate(21.5 2244 2444)">51</text>
<text x="2188" y="2470" transform="rotate(25.5 2188 2470)">99</text>
<text x="2068" y="2410" transform="rotate(25.2 2068 2410)">58</text>
<text x="2230" y="2579" transform="rotate(31.8 2230 2579)">94</text>
<text x="2044" y="2547" transform="rotate(39.2 2044 2547)">75</text>
<text x="2191" y="2645" transform="rotate(37.8 2191 2645)">48</text>
<text x="2040" y="2619" transform="rotate(44.7 2040 2619)">76</text>
<text x="2040" y="2677" transform="rotate(48.4 2040 2677)">57</text>
<text x="2037" y="2728" transform="rotate(51.4 2037 2728)">91</text>
<text x="2034" y="2790" transform="rotate(54.7 2034 2790)">88</text>
<text x="1995" y="2767" transform="rotate(56.2 1995 2767)">99</text>
<text x="1944" y="2743" transform="rotate(58.8 1944 2743)">86</text>
<text x="1897" y="2723" transform="rotate(61.7 1897 2723)">91</text>
<text x="1849" y="2693" transform="rotate(64.6 1849 2693)">100</text>
<text x="1807" y="2663" transform="rotate(67.4 1807 2663)">37</text>
<text x="1763" y="2640" transform="rotate(71.3 1763 2640)">31</text>
<text x="1581" y="2614" transform="rotate(94.4 1581 2614)">23</text>
<text x="1867" y="2125" transform="rotate(-15.6 1867 2125)">21</text>
<text x="1811" y="2329" transform="rotate(33.9 1811 2329)">20</text>
<text x="1683" y="2850" transform="rotate(83.9 1683 2850)">51</text>
<text x="1661" y="2883" transform="rotate(86 1661 2883)">90</text>
<text x="1702" y="2913" transform="rotate(82.9 1702 2913)">100</text>
<text x="1480" y="2903" transform="rotate(100.7 1480 2903)">93</text>
<text x="1558" y="2912" transform="rotate(94.4 1558 2912)">97</text>
<text x="1496" y="2688" transform="rotate(103.4 1496 2688)">99</text>
<text x="1418" y="2711" transform="rotate(110.7 1418 2711)">51</text>
<text x="1364" y="2734" transform="rotate(114.8 1364 2734)">65</text>
<text x="1315" y="2735" transform="rotate(118.9 1315 2735)">100</text>
<text x="1264" y="2734" transform="rotate(123 1264 2734)">88</text>
<text x="1264" y="2769" transform="rotate(121.3 1264 2769)">100</text>
<text x="1262" y="2826" transform="rotate(119.1 1262 2826)">52</text>
<text x="1215" y="2794" transform="rotate(-56.4 1215 2794)">37</text>
<text x="1150" y="2645" transform="rotate(-44.1 1150 2645)">99</text>
<text x="1134" y="2689" transform="rotate(-45.8 1134 2689)">87</text>
<text x="1130" y="2723" transform="rotate(-47.5 1130 2723)">100</text>
<text x="1058" y="2528" transform="rotate(-30.9 1058 2528)">99</text>
<text x="1038" y="2581" transform="rotate(-33.8 1038 2581)">51</text>
<text x="1021" y="2609" transform="rotate(-34.9 1021 2609)">100</text>
<text x="921" y="2441" transform="rotate(-19.5 921 2441)">38</text>
<text x="913" y="2387" transform="rotate(-15.3 913 2387)">99</text>
<text x="901" y="2364" transform="rotate(-13.3 901 2364)">53</text>
<text x="1398" y="2318" transform="rotate(-29.6 1398 2318)">22</text>
<text x="1348" y="2289" transform="rotate(-19.3 1348 2289)">33</text>
<text x="1295" y="2240" transform="rotate(-7.9 1295 2240)">98</text>
<text x="888" y="2275" transform="rotate(-6.2 888 2275)">38</text>
<text x="938" y="2246" transform="rotate(-4.2 938 2246)">100</text>
<text x="1249" y="2186" transform="rotate(1.6 1249 2186)">96</text>
<text x="975" y="2186" transform="rotate(0.9 975 2186)">99</text>
<text x="1212" y="2123" transform="rotate(10.3 1212 2123)">41</text>
<text x="909" y="2062" transform="rotate(10.8 909 2062)">89</text>
<text x="1203" y="2019" transform="rotate(23.3 1203 2019)">73</text>
<text x="980" y="1985" transform="rotate(18.4 980 1985)">99</text>
<text x="948" y="1940" transform="rotate(21 948 1940)">46</text>
<text x="993" y="1938" transform="rotate(22.6 993 1938)">49</text>
<text x="942" y="1958" transform="rotate(19.5 942 1958)">95</text>
<text x="1203" y="1930" transform="rotate(33 1203 1930)">99</text>
<text x="1201" y="1878" transform="rotate(37.7 1201 1878)">100</text>
<text x="1202" y="1800" transform="rotate(43.9 1202 1800)">54</text>
<text x="1007" y="1806" transform="rotate(32.8 1007 1806)">99</text>
<text x="1206" y="1723" transform="rotate(49.3 1206 1723)">31</text>
<text x="1053" y="1736" transform="rotate(39.4 1053 1736)">51</text>
<text x="1222" y="1662" transform="rotate(53.8 1222 1662)">27</text>
<text x="1222" y="1595" transform="rotate(56.9 1222 1595)">41</text>
<text x="1378" y="1532" transform="rotate(70.5 1378 1532)">99</text>
<text x="1363" y="1599" transform="rotate(67.3 1363 1599)">100</text>
<text x="1352" y="1627" transform="rotate(65.4 1352 1627)">76</text>
</g>
</g>
</svg>
